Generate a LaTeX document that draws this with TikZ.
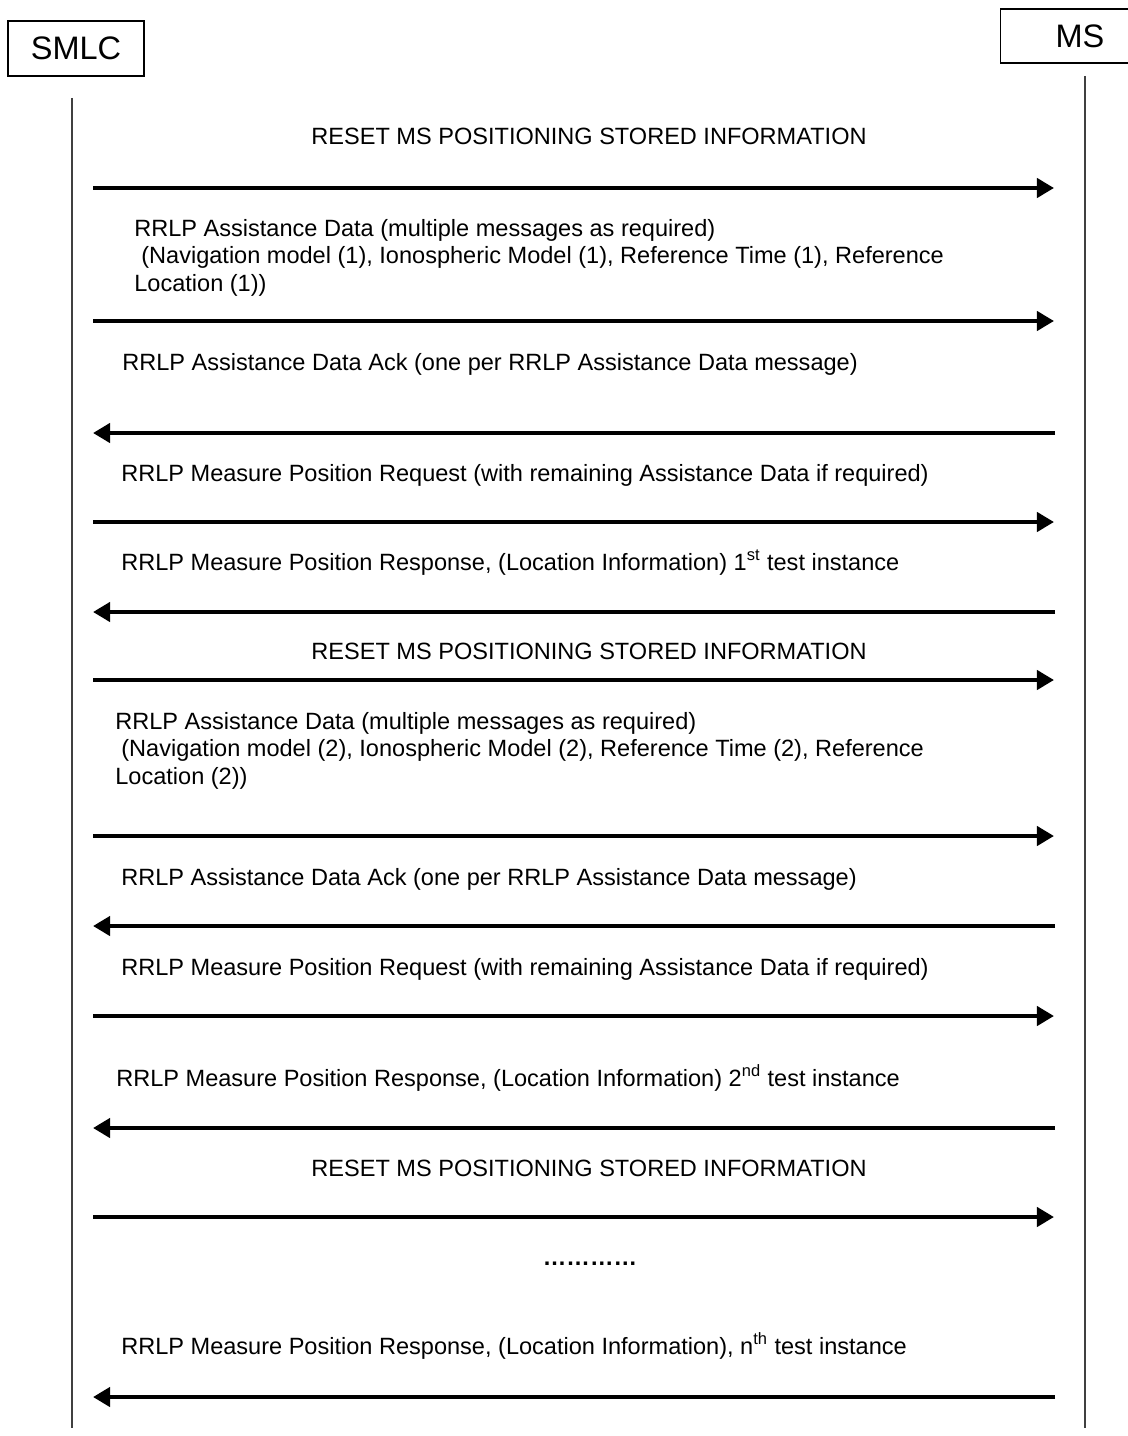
\documentclass[tikz,border=0pt]{standalone}
\usepackage{fontspec}
\setmainfont{Liberation Sans}
\usetikzlibrary{arrows.meta}
\tikzset{
  actor/.style={draw, line width=0.6pt, minimum height=1.1cm, inner sep=0pt,
    font=\fontsize{18.5}{22}\selectfont},
  lifeline/.style={line width=0.6pt, black!75},
  msg/.style={line width=2.5pt, -{Triangle[length=9.7pt,width=10.8pt]}},
  msgtext/.style={anchor=base west, inner sep=0pt, font=\fontsize{13.4}{16}\selectfont},
}
\begin{document}
\begin{tikzpicture}[x=0.02cm,y=-0.02cm]
  \useasboundingbox (0,0) rectangle (1128,1436);
  % Entities and lifelines
  \node[actor, minimum width=2.72cm] (smlc) at (76,48.5) {SMLC};
  \node[actor, minimum width=3.2cm, minimum height=1.08cm] (ms) at (1080,36) {MS};
  \coordinate (smlctop) at (72,98);
  \coordinate (smlcbot) at (72,1428);
  \coordinate (mstop) at (1085,76);
  \coordinate (msbot) at (1085,1428);
  \draw[lifeline] (smlctop) -- (smlcbot);
  \draw[lifeline] (mstop) -- (msbot);

  % First test instance
  \node[msgtext, anchor=base] (reset1) at (589,145) {RESET MS POSITIONING STORED INFORMATION};
  \coordinate (smlc1) at (93,188);
  \coordinate (ms1) at (1054,188);
  \draw[msg] (smlc1) -- (ms1);
  \node[msgtext] (adata1a) at (134,236) {RRLP Assistance Data (multiple messages as required)};
  \node[msgtext] (adata1b) at (141,263.5) {(Navigation model (1), Ionospheric Model (1), Reference Time (1), Reference};
  \node[msgtext] (adata1c) at (134,291) {Location (1))};
  \coordinate (smlc2) at (93,321);
  \coordinate (ms2) at (1054,321);
  \draw[msg] (smlc2) -- (ms2);
  \node[msgtext] (ack1) at (122,370) {RRLP Assistance Data Ack (one per RRLP Assistance Data message)};
  \coordinate (smlc3) at (93,433);
  \coordinate (ms3) at (1055,433);
  \draw[msg] (ms3) -- (smlc3);
  \node[msgtext] (req1) at (121,481) {RRLP Measure Position Request (with remaining Assistance Data if required)};
  \coordinate (smlc4) at (93,522);
  \coordinate (ms4) at (1054,522);
  \draw[msg] (smlc4) -- (ms4);
  \node[msgtext] (resp1) at (121,570) {RRLP Measure Position Response, (Location Information) 1\textsuperscript{st} test instance};
  \coordinate (smlc5) at (93,612);
  \coordinate (ms5) at (1055,612);
  \draw[msg] (ms5) -- (smlc5);

  % Second test instance
  \node[msgtext, anchor=base] (reset2) at (589,659) {RESET MS POSITIONING STORED INFORMATION};
  \coordinate (smlc6) at (93,680);
  \coordinate (ms6) at (1054,680);
  \draw[msg] (smlc6) -- (ms6);
  \node[msgtext] (adata2a) at (115,729) {RRLP Assistance Data (multiple messages as required)};
  \node[msgtext] (adata2b) at (121,756.5) {(Navigation model (2), Ionospheric Model (2), Reference Time (2), Reference};
  \node[msgtext] (adata2c) at (115,784) {Location (2))};
  \coordinate (smlc7) at (93,836);
  \coordinate (ms7) at (1054,836);
  \draw[msg] (smlc7) -- (ms7);
  \node[msgtext] (ack2) at (121,885) {RRLP Assistance Data Ack (one per RRLP Assistance Data message)};
  \coordinate (smlc8) at (93,926);
  \coordinate (ms8) at (1055,926);
  \draw[msg] (ms8) -- (smlc8);
  \node[msgtext] (req2) at (121,975) {RRLP Measure Position Request (with remaining Assistance Data if required)};
  \coordinate (smlc9) at (93,1016);
  \coordinate (ms9) at (1054,1016);
  \draw[msg] (smlc9) -- (ms9);
  \node[msgtext] (resp2) at (116,1086) {RRLP Measure Position Response, (Location Information) 2\textsuperscript{nd} test instance};
  \coordinate (smlc10) at (93,1128);
  \coordinate (ms10) at (1055,1128);
  \draw[msg] (ms10) -- (smlc10);

  % n-th test instance
  \node[msgtext, anchor=base] (reset3) at (589,1176) {RESET MS POSITIONING STORED INFORMATION};
  \coordinate (smlc11) at (93,1217);
  \coordinate (ms11) at (1054,1217);
  \draw[msg] (smlc11) -- (ms11);
  \node[msgtext, anchor=base] (dots) at (590,1265) {\bfseries …………};
  \node[msgtext] (respn) at (121,1354) {RRLP Measure Position Response, (Location Information), n\textsuperscript{th} test instance};
  \coordinate (smlc12) at (93,1397);
  \coordinate (ms12) at (1055,1397);
  \draw[msg] (ms12) -- (smlc12);
\end{tikzpicture}
\end{document}
